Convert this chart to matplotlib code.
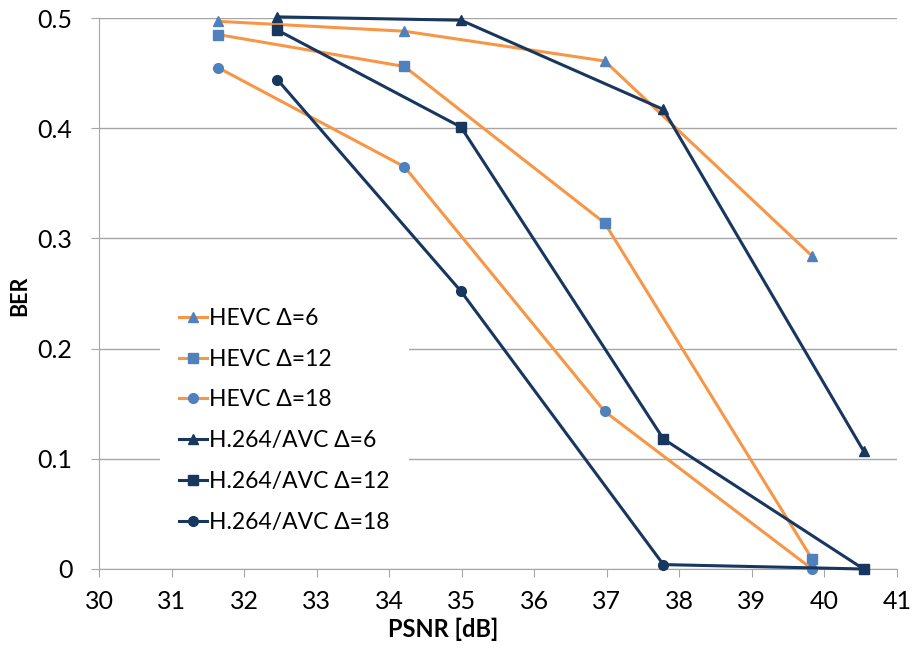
import matplotlib
matplotlib.use("Agg")
import matplotlib.pyplot as plt

plt.rcParams['font.family'] = ['Lato', 'DejaVu Sans']

hevc_psnr = [31.64, 34.21, 36.97, 39.83]
avc_psnr = [32.46, 34.99, 37.78, 40.54]

hevc_d6 = [0.497, 0.488, 0.461, 0.284]
hevc_d12 = [0.485, 0.456, 0.314, 0.009]
hevc_d18 = [0.455, 0.365, 0.143, 0.0]
avc_d6 = [0.501, 0.498, 0.417, 0.107]
avc_d12 = [0.489, 0.401, 0.118, 0.0]
avc_d18 = [0.444, 0.252, 0.004, 0.0]

labels = ["HEVC Δ=6", "HEVC Δ=12", "HEVC Δ=18",
          "H.264/AVC Δ=6", "H.264/AVC Δ=12", "H.264/AVC Δ=18"]
xticks = list(range(30, 42))
yticks = [0, 0.1, 0.2, 0.3, 0.4, 0.5]

orange = '#F79646'
lblue = '#4F81BD'
navy = '#17375E'
gray = '#A6A6A6'

fig = plt.figure(figsize=(9.17, 6.54), dpi=100)
ax = fig.add_axes([99 / 917, 85 / 654, 798 / 917, 551 / 654])

series = [(hevc_psnr, hevc_d6, '^', orange, lblue),
          (hevc_psnr, hevc_d12, 's', orange, lblue),
          (hevc_psnr, hevc_d18, 'o', orange, lblue),
          (avc_psnr, avc_d6, '^', navy, navy),
          (avc_psnr, avc_d12, 's', navy, navy),
          (avc_psnr, avc_d18, 'o', navy, navy)]
for (x, y, m, lc, mc), lab in zip(series, labels):
    ax.plot(x, y, color=lc, lw=2.2, marker=m, markersize=7,
            markerfacecolor=mc, markeredgecolor=mc, label=lab, clip_on=False, zorder=3)

ax.set_xlim(30, 41)
ax.set_ylim(0, 0.5)
ax.set_xticks(xticks)
ax.set_xticklabels([str(t) for t in xticks])
ax.set_yticks(yticks)
ax.set_yticklabels(['0', '0.1', '0.2', '0.3', '0.4', '0.5'])
ax.yaxis.grid(True, color=gray, lw=1)
ax.set_axisbelow(True)
for s in ['top', 'right']:
    ax.spines[s].set_visible(False)
ax.spines['left'].set_color(gray)
ax.spines['bottom'].set_color(gray)
ax.tick_params(axis='x', direction='out', length=6, color=gray, labelsize=18, pad=9)
ax.tick_params(axis='y', direction='out', length=6, color=gray, labelsize=18, pad=13)

ax.set_xlabel('PSNR [dB]', fontsize=17, fontweight='bold', labelpad=0)
ax.xaxis.set_label_coords(0.431, -0.089, transform=ax.transAxes)
ax.xaxis.label.set_va('top')
ax.set_ylabel('BER', fontsize=15.5, fontweight='bold')
ax.yaxis.set_label_coords(-0.086, 0.495, transform=ax.transAxes)

leg = ax.legend(loc='upper left', bbox_to_anchor=(0.076, 0.509), frameon=True,
                fontsize=16.5, labelspacing=0.86, handlelength=1.2, handletextpad=0.12,
                borderaxespad=0, borderpad=0.85, fancybox=False)
leg.get_frame().set_facecolor('white')
leg.get_frame().set_edgecolor('none')
leg.get_frame().set_alpha(1)

fig.savefig('out.png', dpi=100)
